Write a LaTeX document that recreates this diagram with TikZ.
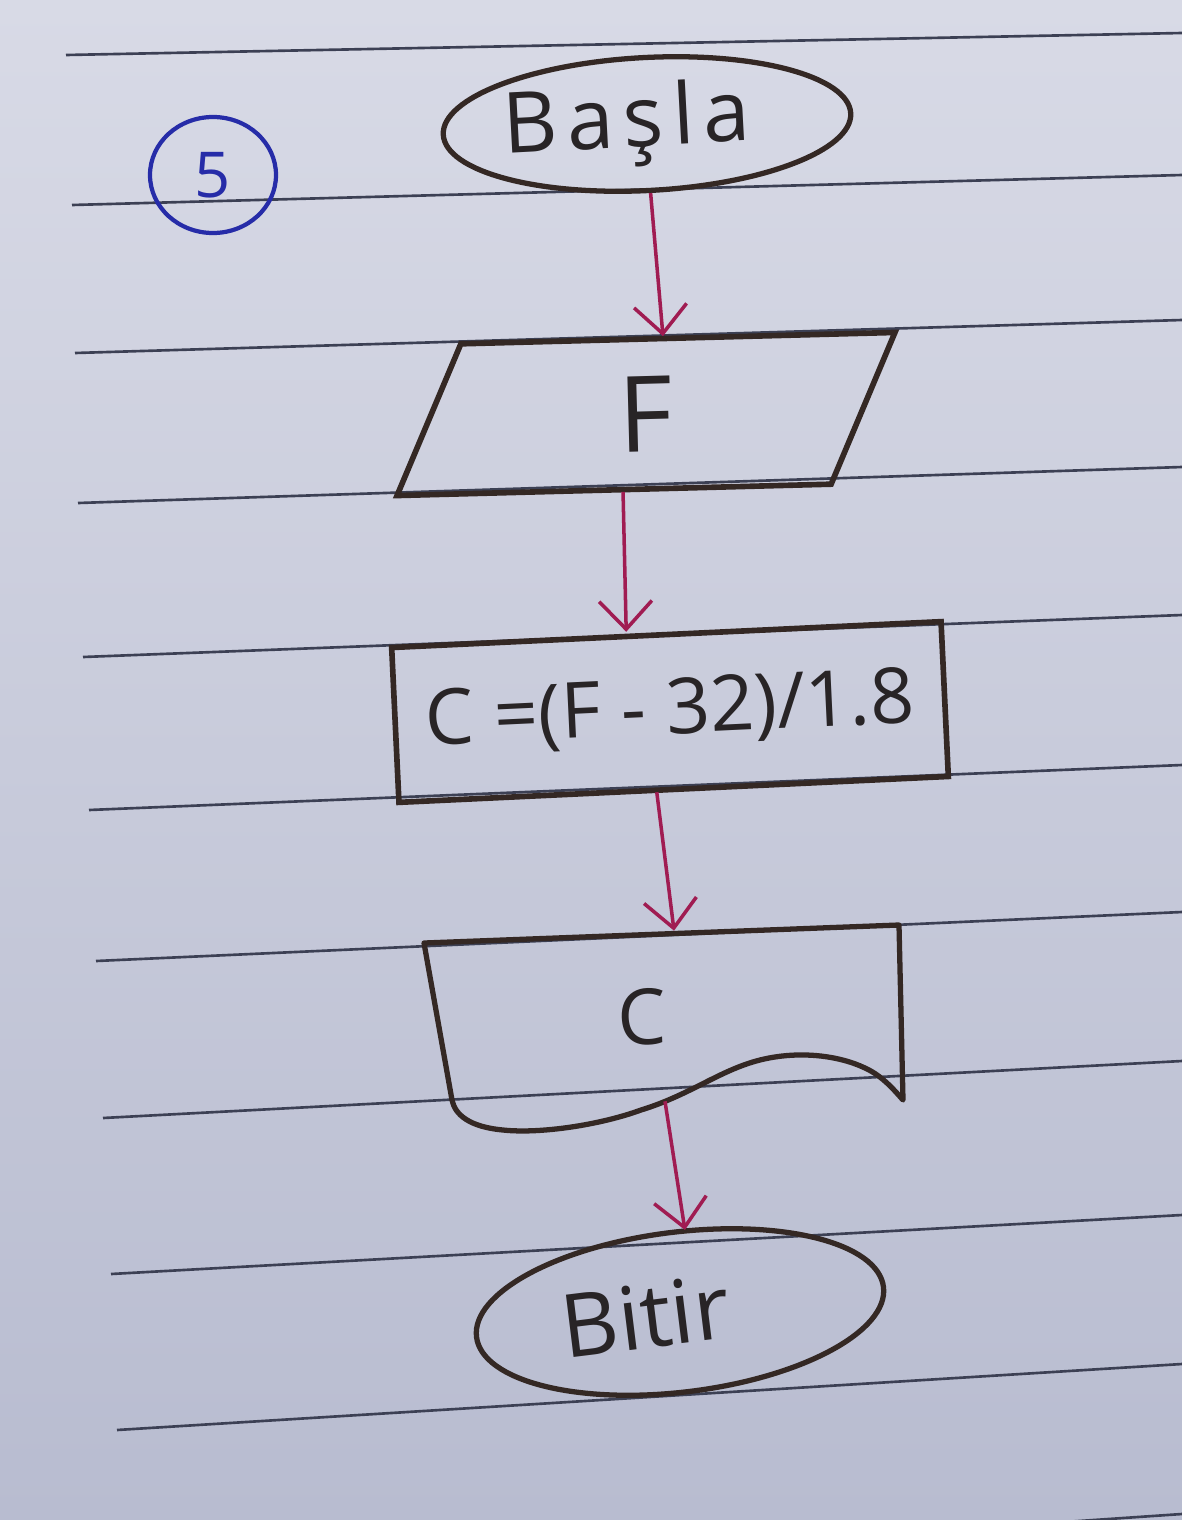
\documentclass[tikz,border=0pt]{standalone}
\usepackage{fontspec}
\setmainfont{Open Sans}
\usetikzlibrary{shapes.geometric,arrows.meta}

\definecolor{paper}{RGB}{216,218,230}
\definecolor{paperdark}{RGB}{184,188,208}
\definecolor{rule}{RGB}{60,64,84}
\definecolor{ink}{RGB}{52,40,36}
\definecolor{pen}{RGB}{40,36,38}
\definecolor{flow}{RGB}{160,28,82}
\definecolor{bluepen}{RGB}{38,44,168}

\tikzset{
  term/.style={ellipse, draw=ink, line width=3pt, inner sep=0pt, text=pen},
  io/.style={trapezium, trapezium stretches body=true, trapezium left angle=48,
    trapezium right angle=132, draw=ink, line width=3.2pt, inner sep=0pt, text=pen},
  proc/.style={rectangle, draw=ink, line width=3.2pt, inner sep=0pt, text=pen},
  flowline/.style={draw=flow, line width=2pt, -{Straight Barb[length=16pt,width=30pt]}},
}

\begin{document}
\begin{tikzpicture}[x=0.2mm,y=-0.2mm]
  \useasboundingbox (0,0) rectangle (1182,1520);
  % paper and its ruled lines
  \shade[top color=paper, bottom color=paperdark] (0,0) rectangle (1182,1520);
  \foreach \xl/\yl/\yr in {66/55/33, 72/205/175, 75/353/320, 78/503/467,
      83/657/615, 89/810/765, 96/961/912, 103/1118/1061, 111/1274/1215,
      117/1430/1364, 123/1586/1514}
    \draw[rule, line width=1.5pt] (\xl,\yl) -- (1182,\yr);

  % exercise number
  \node[ellipse, draw=bluepen, line width=2.4pt, minimum width=25.2mm,
    minimum height=23.2mm, text=bluepen, font=\fontsize{36}{36}\selectfont]
    (num) at (213,175) {\raisebox{-1.8mm}{5}};

  % flowchart
  \node[term, minimum width=81.6mm, minimum height=26.6mm, rotate=3,
    font=\fontsize{48}{52}\selectfont] (start) at (647,124)
    {\addfontfeatures{LetterSpace=11}Başla\kern8mm};
  \node[io, minimum width=100.4mm, minimum height=30mm, rotate=1.5,
    font=\fontsize{60}{60}\selectfont] (input) at (646,414) {F};
  \node[proc, minimum width=110mm, minimum height=31mm, rotate=2.7,
    font=\fontsize{44}{48}\selectfont] (calc) at (670,712) {C =(F - 32)/1.8};
  \node[minimum width=95mm, minimum height=34mm, rotate=2, text=pen,
    font=\fontsize{44}{48}\selectfont] (out) at (662,1016) {C\kern8mm};
  \draw[ink, line width=3pt, line join=round] (424,943) -- (899,925) -- (903,1100)
    .. controls (890,1085) and (880,1075) .. (865,1068)
    .. controls (840,1056) and (800,1050) .. (760,1060)
    .. controls (720,1070) and (690,1095) .. (641,1110)
    .. controls (600,1125) and (540,1134) .. (503,1130)
    .. controls (470,1127) and (455,1115) .. (452,1100) -- cycle;
  \node[term, minimum width=82mm, minimum height=32mm, rotate=7,
    font=\fontsize{50}{54}\selectfont] (stop) at (680,1312) {Bitir\kern14mm};

  \draw[flowline] (start.south) -- ([xshift=3.8mm]input.north);
  \draw[flowline] ([xshift=-5mm]input.south) -- ([xshift=-8mm]calc.north);
  \draw[flowline] ([xshift=-3.4mm]calc.south) -- ([xshift=3mm]out.north);
  \draw[flowline] (out.south) -- ([xshift=3mm]stop.north);
\end{tikzpicture}
\end{document}
